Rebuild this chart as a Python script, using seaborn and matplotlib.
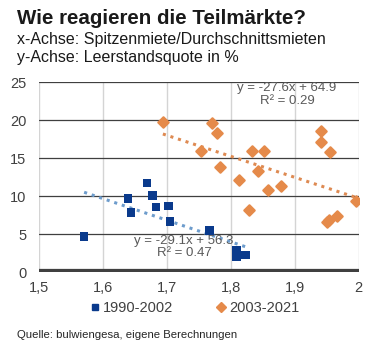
import numpy as np
import pandas as pd
import matplotlib
matplotlib.use("Agg")
import matplotlib.pyplot as plt
from matplotlib.lines import Line2D
import seaborn as sns

# --- data -------------------------------------------------------------
x_1990 = [1.571, 1.639, 1.644, 1.669, 1.678, 1.683, 1.703, 1.705, 1.767,
          1.809, 1.809, 1.814, 1.823]
y_1990 = [4.7, 9.7, 7.85, 11.75, 10.1, 8.55, 8.7, 6.7, 5.5,
          2.9, 2.1, 2.3, 2.3]

x_2003 = [1.694, 1.771, 1.778, 1.753, 1.783, 1.813, 1.833, 1.852, 1.842,
          1.858, 1.878, 1.829, 1.941, 1.941, 1.955, 1.995, 1.951, 1.953, 1.966]
y_2003 = [19.8, 19.6, 18.3, 15.9, 13.8, 12.2, 15.9, 16.0, 13.3,
          10.8, 11.4, 8.2, 18.6, 17.1, 15.8, 9.4, 6.6, 6.9, 7.45]

series_labels = ["1990-2002", "2003-2021"]
eq_1990 = "y = -29.1x + 56.3\nR² = 0.47"
eq_2003 = "y = -27.6x + 64.9\nR² = 0.29"
x_ticks = [1.5, 1.6, 1.7, 1.8, 1.9, 2.0]
x_ticklabels = ["1,5", "1,6", "1,7", "1,8", "1,9", "2"]
y_ticks = [0, 5, 10, 15, 20, 25]

title = "Wie reagieren die Teilmärkte?"
subtitle = "x-Achse: Spitzenmiete/Durchschnittsmieten\ny-Achse: Leerstandsquote in %"
source = "Quelle: bulwiengesa, eigene Berechnungen"

# --- style ------------------------------------------------------------
sns.set_style("white")
plt.rcParams["font.family"] = ["Liberation Sans", "DejaVu Sans"]

BLUE = "#0a3a8c"
ORANGE = "#e58a4a"
BLUE_TREND = "#6d9ccc"
ORANGE_TREND = "#de8a52"
TXT = "#595959"

df1 = pd.DataFrame({"x": x_1990, "y": y_1990})
df2 = pd.DataFrame({"x": x_2003, "y": y_2003})

fig = plt.figure(figsize=(3.87, 3.57), dpi=100)
ax = fig.add_axes([0.100, 0.237, 0.827, 0.533])

# grid
for xv in x_ticks:
    ax.axvline(xv, color="#d4d4d4", lw=1.0, zorder=0)
for yv in y_ticks[1:]:
    ax.axhline(yv, color="#3f3f3f", lw=0.9, zorder=0)
ax.axhline(0, color="#404040", lw=4.5, zorder=1)

# trendlines
dotted = (0, (1.0, 1.6))
sns.regplot(data=df1, x="x", y="y", scatter=False, ci=None, ax=ax,
            line_kws=dict(color=BLUE_TREND, lw=2.2, linestyle=dotted, zorder=2))
sns.regplot(data=df2, x="x", y="y", scatter=False, ci=None, ax=ax,
            line_kws=dict(color=ORANGE_TREND, lw=2.2, linestyle=dotted, zorder=2))

# points
sns.scatterplot(data=df1, x="x", y="y", marker="s", color=BLUE, s=36,
                edgecolor="none", ax=ax, zorder=3)
sns.scatterplot(data=df2, x="x", y="y", marker="D", color=ORANGE, s=28,
                edgecolor=ORANGE, linewidth=1.6, ax=ax, zorder=3)
try:
    ax.collections[-1].set_joinstyle("round")
except Exception:
    pass

ax.set_xlim(1.5, 2.0)
ax.set_ylim(0, 25)
ax.set_xticks(x_ticks)
ax.set_xticklabels(x_ticklabels)
ax.set_yticks(y_ticks)
ax.set_xlabel("")
ax.set_ylabel("")
for s in ax.spines.values():
    s.set_visible(False)
ax.tick_params(axis="both", length=0, labelsize=10.5, colors="#404040", pad=6)
ax.tick_params(axis="y", pad=9)

# equations
ax.text(1.888, 23.4, eq_2003, ha="center", va="center", fontsize=9.5,
        color=TXT, linespacing=1.05, zorder=4)
ax.text(1.727, 3.3, eq_1990, ha="center", va="center", fontsize=9.5,
        color=TXT, linespacing=1.05, zorder=4)

# titles
fig.text(0.043, 0.947, title, fontsize=14.8, fontweight="bold",
         color="#1a1a1a", va="center", ha="left")
fig.text(0.043, 0.863, subtitle, fontsize=11.5, color="#1a1a1a",
         va="center", ha="left", linespacing=1.25)

# legend
handles = [Line2D([], [], marker="s", color=BLUE, linestyle="none", markersize=5),
           Line2D([], [], marker="D", color=ORANGE, linestyle="none", markersize=5)]
fig.legend(handles, series_labels, loc="center", bbox_to_anchor=(0.50, 0.138),
           ncol=2, frameon=False, fontsize=10.5, handletextpad=0.05,
           columnspacing=2.8, handlelength=1.0, labelcolor="#404040")

fig.text(0.044, 0.062, source, fontsize=8.2, color="#262626",
         va="center", ha="left")

fig.savefig("out.png", dpi=100)
